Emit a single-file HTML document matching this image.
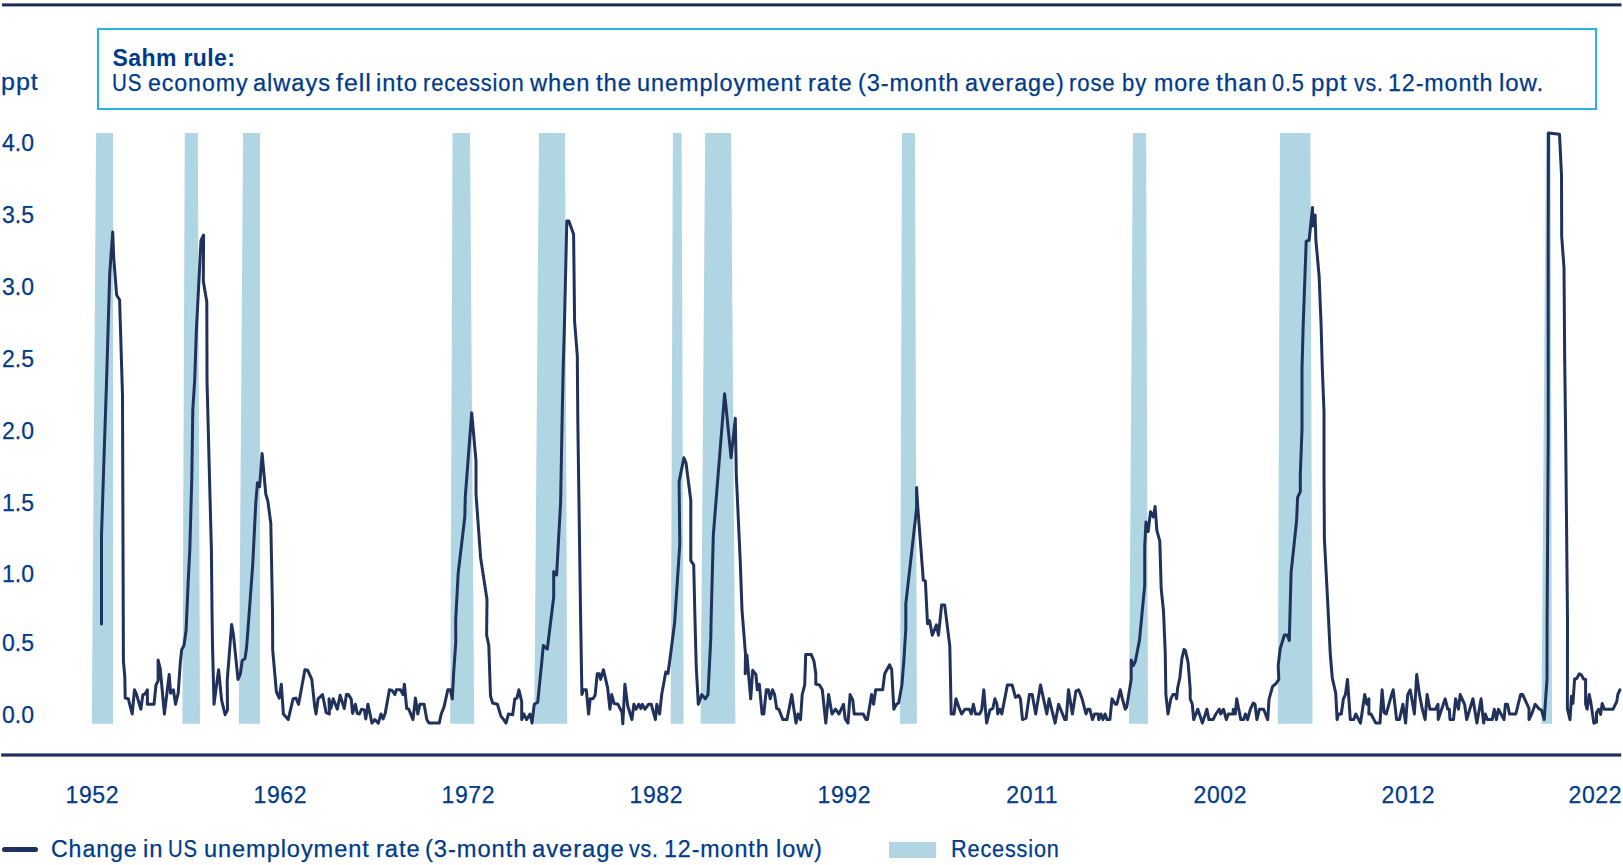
<!DOCTYPE html>
<html><head><meta charset="utf-8">
<style>
html,body{margin:0;padding:0;background:#fff;}
body{width:1623px;height:865px;position:relative;overflow:hidden;font-family:"Liberation Sans",sans-serif;color:#003a8a;}
.a{position:absolute;white-space:nowrap;line-height:1;}
#rule{position:absolute;left:2px;top:3px;width:1620px;height:3px;background:#1b2b55;}
#box{position:absolute;left:97px;top:28px;width:1496px;height:78px;border:2px solid #2ab3e1;}
.t{font-size:23px;-webkit-text-stroke:0.25px #003a8a;}
.yl{font-size:23px;left:2px;-webkit-text-stroke:0.25px #003a8a;}
.w{position:absolute;top:0;letter-spacing:0.9px;transform-origin:0 0;}
.xl{font-size:23px;width:100px;text-align:center;letter-spacing:0.6px;text-indent:0.6px;-webkit-text-stroke:0.25px #003a8a;}
#axis{position:absolute;left:1px;top:753px;width:1622px;height:3px;background:#1e2f5a;}
svg{position:absolute;left:0;top:0;}
</style></head><body>
<div id="box"></div>
<div class="a t" style="left:112.5px;top:46.6px;font-weight:bold;letter-spacing:0.4px;-webkit-text-stroke:0;">Sahm rule:</div>
<div class="a t" style="left:0;top:72px;"><span class="w" style="left:112.4px;transform:scaleX(0.8936)">US</span><span class="w" style="left:147.9px;transform:scaleX(1.0082)">economy</span><span class="w" style="left:252.9px;transform:scaleX(1.0298)">always</span><span class="w" style="left:336.1px;transform:scaleX(1.0871)">fell</span><span class="w" style="left:375.8px;transform:scaleX(1.027)">into</span><span class="w" style="left:423.2px;transform:scaleX(0.9519)">recession</span><span class="w" style="left:530.2px;transform:scaleX(1.0298)">when</span><span class="w" style="left:595.9px;transform:scaleX(1.0403)">the</span><span class="w" style="left:636.6px;transform:scaleX(1.0207)">unemployment</span><span class="w" style="left:808.3px;transform:scaleX(1.0294)">rate</span><span class="w" style="left:858.0px;transform:scaleX(1.024)">(3-month</span><span class="w" style="left:964.7px;transform:scaleX(1.0169)">average)</span><span class="w" style="left:1069.1px;transform:scaleX(0.9631)">rose</span><span class="w" style="left:1122.0px;transform:scaleX(0.96)">by</span><span class="w" style="left:1153.6px;transform:scaleX(1.0093)">more</span><span class="w" style="left:1215.5px;transform:scaleX(1.0661)">than</span><span class="w" style="left:1272.2px;transform:scaleX(0.9427)">0.5</span><span class="w" style="left:1310.9px;transform:scaleX(1.0489)">ppt</span><span class="w" style="left:1353.5px;transform:scaleX(0.9303)">vs.</span><span class="w" style="left:1388.4px;transform:scaleX(1.0098)">12-month</span><span class="w" style="left:1499.4px;transform:scaleX(1.0452)">low.</span></div>
<div class="a yl" style="left:1.2px;top:71.2px;letter-spacing:0.9px;transform-origin:0 0;transform:scaleX(1.09);">ppt</div>
<div class="a yl" style="top:132.3px;">4.0</div>
<div class="a yl" style="top:204.3px;">3.5</div>
<div class="a yl" style="top:276.3px;">3.0</div>
<div class="a yl" style="top:348.3px;">2.5</div>
<div class="a yl" style="top:420.3px;">2.0</div>
<div class="a yl" style="top:492.3px;">1.5</div>
<div class="a yl" style="top:563.3px;">1.0</div>
<div class="a yl" style="top:632.3px;">0.5</div>
<div class="a yl" style="top:704.3px;">0.0</div>
<svg width="1623" height="865" viewBox="0 0 1623 865">
<rect x="2" y="3.4" width="1619.5" height="3" fill="#1b2b55"/>
<rect x="1.2" y="753.4" width="1620" height="3.2" fill="#1e2f5a"/>
<g fill="#b0d6e4">
<polygon points="96.1,133 113.1,133 113.1,723.7 91.8,723.7"/>
<polygon points="184.8,133 197.8,133 200,723.7 182.4,723.7"/>
<polygon points="243.1,133 260,133 260,723.7 238.8,723.7"/>
<polygon points="452.6,133 470,133 474.2,723.7 450.2,723.7"/>
<polygon points="539,133 565,133 567.2,723.7 534.3,723.7"/>
<polygon points="672.9,133 681.6,133 683.6,723.7 670.7,723.7"/>
<polygon points="705.2,133 731.1,133 735.4,723.7 700.6,723.7"/>
<polygon points="902,133 915,133 916.9,723.7 900,723.7"/>
<polygon points="1132.9,133 1146.1,133 1148,723.7 1129,723.7"/>
<polygon points="1280,133 1310.4,133 1312.5,723.7 1277.8,723.7"/>
<polygon points="1546,133 1550.5,133 1552,723.7 1541.4,723.7"/>
</g>
<path id="line" fill="none" stroke="#20325c" stroke-width="3" stroke-linejoin="round" stroke-linecap="round" d="M101.5,624 L101.5,536 L103.7,467 L106.6,380 L109.7,274 L112.7,232 L113.7,257 L116.6,295 L119.6,300 L122.5,395 L123.4,661 L124.8,676.6 L125.2,698 L128.3,698.8 L132.2,714 L134.5,689.8 L136.6,694.6 L140.8,709.2 L142.9,694.6 L145,694 L147.4,689.8 L147.4,704.3 L154,704.3 L156,685 L158.1,680.8 L158.1,660 L160.2,668.3 L164.4,714 L169.2,674.5 L170.6,693.2 L173.4,689.8 L175.5,704.3 L178.2,693.2 L180.3,662.7 L181.7,649.6 L184,645.4 L186.1,630.2 L188.2,581.6 L189.8,550 L191.8,478 L192.8,409.5 L194.7,380 L196.4,330 L201,240.4 L203.6,235 L203.3,281 L206.8,302 L207,380 L209.5,478 L211.4,550 L212,610 L212.5,645 L214,704.3 L218.6,669.7 L221.6,700.2 L225.1,714.7 L227.5,709.9 L227.2,680.8 L231.6,624.6 L233.4,634.3 L238,679.4 L240.4,673.8 L242.2,660.6 L245,658.6 L246.6,647.5 L248.3,625 L252.7,565 L255.8,502.4 L257.5,482.7 L259.6,486.8 L262.1,453.5 L265.8,494 L267.9,501.4 L270.8,523.2 L272.5,610 L272.7,650.2 L276.4,691.9 L279.2,698.1 L281.3,684.2 L283.4,714 L288.2,719.6 L293.1,698.8 L295.9,698.1 L298.6,704.3 L304.9,669.7 L307.7,670.3 L311.8,679.4 L314.6,705.7 L316,714 L318.1,698.8 L322.5,694.6 L326.2,712.7 L329.4,714 L329,698.8 L330.8,708.5 L333.2,698.8 L337.3,709.2 L340.1,695.3 L344.3,708.5 L346.4,694.6 L348.4,694.6 L351.2,698.8 L352.6,713.4 L355.4,704.3 L357.2,713.4 L359.5,714 L361.6,709.2 L364.4,709.9 L365.8,718.9 L367.9,704.3 L372,723.1 L374.8,719.6 L378.3,723.1 L381,714 L383.1,718.9 L385.2,713.4 L389.4,689.8 L392.1,690.5 L394.9,694.6 L396.3,689.8 L400.5,689.8 L403,694.6 L404.4,684.2 L406.7,708.5 L408.8,709.2 L413,719.6 L415.4,698.1 L417.8,714 L419.9,704.3 L424.1,704.3 L426.8,719.6 L428.9,723.1 L439.2,723.1 L441.2,714 L444,707.1 L447.8,689.8 L450.3,689.8 L452.3,698.8 L453.7,672.4 L455.8,641.9 L455.7,620 L458.2,573 L464.8,517 L465.3,496.6 L471.7,412.7 L476,461 L476,494 L480.6,557.7 L487,599.6 L486.6,635 L488.8,645.4 L490.5,696 L492.6,703 L497.4,704.3 L500.9,716.1 L503.7,719.6 L506,723.1 L508.5,714 L512.7,714.7 L514.8,698.8 L516.9,698.1 L518.9,689.8 L521.7,701.6 L521.7,719.6 L523.8,714 L526.6,719.6 L530,714 L532.1,723.1 L534.2,704.3 L537.7,702.3 L541.5,665 L543.3,645.5 L547.3,649 L553.7,597 L553.7,571.6 L556.6,575 L560.6,502.3 L562.3,410 L563.2,367.8 L564.4,326.5 L566.8,221 L568.8,221 L573.6,234.3 L574.6,321.7 L577.3,355.7 L577.8,420 L580.5,610 L581.9,694.6 L583.3,689.8 L586.3,689.8 L588.6,714 L590.2,698.8 L593,698.8 L595.1,695.3 L597.2,673.8 L599.3,673.8 L600.6,679.4 L603.4,669.7 L607.6,687.7 L609.9,709.2 L611.7,694.6 L614.1,703.6 L618,704.3 L622.1,712.7 L622.8,723.8 L624.9,684.2 L627.7,705.7 L631.9,719.6 L633.9,704.3 L636,709.2 L638.8,704.3 L640.9,708.5 L642.3,704.3 L645,709.2 L648.5,704.3 L651.3,704.3 L655.4,719.6 L656.8,704.3 L659.6,714 L661.7,694.6 L665.8,672 L668,673.5 L670.5,655 L674.7,622 L679.8,544 L679.1,481.6 L683.9,457.7 L686,462.9 L690.8,500.4 L690.8,560.7 L693.7,564.9 L695,620 L696.2,665.5 L698.3,704.3 L701.8,694.6 L705.2,698.8 L708,694.6 L710.8,637.7 L711.1,620 L713.3,535.4 L718.1,475 L724.6,393.8 L725.9,405.8 L731.1,457.8 L735.3,418.3 L736.3,475 L740.2,560.4 L742,610 L745.5,654.4 L745.2,673.8 L746.9,655 L750.7,698.8 L752.7,670.3 L755.9,674.5 L757.3,689.8 L759.3,684.2 L762.1,714 L763.8,714 L766.3,689.8 L768.4,689.8 L770.2,698.8 L772.5,689.8 L774.6,694.6 L776.7,708.5 L778.8,709.2 L782.9,719.6 L786.9,719.6 L789,709.2 L791.8,694.6 L793.9,709.2 L796,723.1 L798,714 L800.5,719.6 L802.2,694.6 L804.7,684.9 L805.7,654.4 L811.2,654.4 L814,661.3 L815.8,673.8 L815.8,684.2 L819.5,684.9 L822.3,689.8 L825.8,723.1 L828.6,694.6 L832,714 L835.5,709.2 L839,714 L843.5,704.3 L845.2,718.9 L848,723.1 L850.1,694.6 L852.8,700.2 L854.2,714 L863.2,714 L866,719.6 L867.4,719.6 L871.6,694.6 L873.6,704.3 L875.7,689.8 L882.7,689.8 L884.7,673.8 L889.6,664.8 L891.7,669.7 L893.8,709.2 L896.5,704.3 L898.6,703 L901.9,684.9 L904,658.6 L905.8,629 L905.8,604 L916.6,508.3 L916.6,487.5 L917.7,506.2 L923.3,580.1 L925.4,581.1 L927.5,623.8 L929.6,620.7 L932.3,635.2 L936.4,624.8 L938.5,635.2 L941.6,605.1 L944.7,605.1 L949.8,646.1 L951.2,714 L954,714 L956,698.8 L958.8,707.1 L961.6,714 L965.1,709.2 L969.2,709.2 L971.3,714 L973.4,704.3 L975.5,714 L979.6,714 L981.7,709.9 L983.8,689.8 L986.6,723.1 L990,709.9 L992.8,708.5 L994.9,698.8 L997,704.3 L997.7,714 L999.7,709.2 L1001.8,714 L1007.4,684.9 L1012.1,684.9 L1015.5,697.4 L1018.6,695.3 L1020.4,698.8 L1022.5,719.6 L1026,718.2 L1029.4,694.6 L1032.2,694.6 L1035.7,714 L1040.5,684.9 L1046.8,714 L1049.1,698.8 L1055.1,723.1 L1058.6,704.3 L1064.8,719.6 L1066.2,719.6 L1068.5,689.8 L1072.4,714 L1075.9,691.2 L1078.7,689.8 L1082.1,698.8 L1086,714 L1087.7,709.2 L1089.8,709.2 L1092.5,719.6 L1094.6,714 L1098.1,714 L1098.8,719.6 L1100.9,714 L1103,719.6 L1105,714 L1107.1,719.6 L1109.9,719.6 L1112,698.8 L1115.4,704.3 L1116.8,704.3 L1120.3,689.8 L1122.4,698.8 L1125.2,709.2 L1126.7,707.1 L1131.2,679.4 L1131.2,660 L1133.3,665.5 L1135.4,661.3 L1139.5,640 L1144.7,585.4 L1144.7,547.2 L1146,522.1 L1148.2,531.6 L1150.5,511.7 L1153.4,516.9 L1155.1,506.5 L1156.9,530.7 L1159.8,541.2 L1161.2,588.8 L1163.5,611 L1165.2,651.6 L1165.9,694.6 L1168,714 L1170.8,698.8 L1172.9,694.6 L1175.6,694.6 L1176.6,698.8 L1177.7,687.7 L1179.8,678 L1181.9,658.6 L1184,649.5 L1185.3,650.2 L1188.1,662.7 L1190.2,689.1 L1190.2,698.8 L1192.3,704.3 L1193.7,719.6 L1197.8,709.2 L1202.4,723.1 L1206.9,709.2 L1208.9,719.6 L1213.1,719.6 L1215.9,714 L1219.3,709.2 L1220.7,714 L1223.5,709.2 L1226.3,719.6 L1228.4,714 L1233.2,714 L1233.2,709.2 L1235.3,714 L1236.7,698.8 L1240.8,719.6 L1243.6,719.6 L1245.5,714 L1247.6,719.6 L1250.4,709.2 L1253.2,703 L1255,704.3 L1256.9,719.6 L1259.4,709.2 L1263.6,709.2 L1267.7,719.6 L1269.1,698.8 L1272.6,686.3 L1276.1,683.5 L1278.8,679.4 L1278.2,665.5 L1280.2,648.8 L1284.4,635 L1287.2,635 L1289.3,640.5 L1291.1,572.3 L1296.6,520.5 L1297.6,497.4 L1300.3,491.8 L1300.3,475 L1302,429 L1302,368.4 L1303.2,325 L1306.2,241.1 L1309.1,240.3 L1312.5,207.5 L1312.8,226 L1315.1,215 L1315.9,240.3 L1319.1,275.9 L1321.1,325 L1322.3,368.4 L1324,411.7 L1324,475 L1324.4,539 L1328.1,610 L1330.2,653 L1332.3,678 L1335.7,693.2 L1337.1,719.6 L1338.5,714 L1341.3,714 L1343.4,698.8 L1345.4,694.6 L1347.5,679.4 L1350.3,719.6 L1353.8,719.6 L1355.8,714 L1360.5,723.1 L1364.7,694.6 L1366.8,704.3 L1368.9,698.8 L1368.9,714 L1371,714 L1375.8,723.1 L1380,723.1 L1382.1,689.8 L1384.1,712.7 L1386.2,714 L1390.4,698.8 L1393.2,689.8 L1396.6,719.6 L1399.4,719.6 L1402.9,704.3 L1405.6,723.1 L1407.7,694.6 L1410.2,689.8 L1414.4,714 L1416.7,674.5 L1419.5,694.6 L1422.3,709.2 L1425.1,719.6 L1427.1,694.6 L1429.9,709.2 L1435.5,709.2 L1438,704.3 L1438.2,719.6 L1445.2,698.8 L1447.7,709.2 L1449.3,709.2 L1450,719.6 L1453.5,719.6 L1455.6,698.8 L1458.4,709.2 L1460.2,694.6 L1464.6,704.3 L1466.7,719.6 L1472.9,698.8 L1476.9,723.1 L1481.1,698.8 L1483.6,723.1 L1485.3,714 L1487.3,719.6 L1492.2,719.6 L1494.3,709.2 L1496.4,719.6 L1498.4,709.2 L1504,719.6 L1505.4,704.3 L1507.5,704.3 L1509.5,714 L1515.8,714 L1520.6,694.6 L1522.7,694.6 L1529,708.5 L1529,719.6 L1531.7,714 L1535.2,704.3 L1539.4,709.2 L1541.4,709.9 L1544.2,719.6 L1547,679.4 L1547.1,620 L1548.2,440 L1548.2,250 L1548.5,133.1 L1559.5,134.2 L1561.5,175 L1561.7,236.5 L1564,267.6 L1564.7,360 L1565.7,440 L1567.5,620 L1567.4,708.6 L1570,719.6 L1571.5,696.2 L1572.9,703.4 L1574.6,679 L1576.7,678.5 L1579.3,673.8 L1581.4,674.8 L1583.5,679 L1585.6,679.5 L1585.6,704 L1587.1,709.2 L1589.2,694.6 L1590.8,702.4 L1593.9,723.2 L1596.5,722.2 L1596.5,712.8 L1598.6,709.2 L1600.6,714.4 L1602.2,703.4 L1604.3,709.2 L1613.1,709.2 L1616.8,701.4 L1617.8,694.6 L1619.9,689.9"/>
</svg>
<div class="a xl" style="left:42px;top:783.8px;">1952</div>
<div class="a xl" style="left:230px;top:783.8px;">1962</div>
<div class="a xl" style="left:418px;top:783.8px;">1972</div>
<div class="a xl" style="left:606px;top:783.8px;">1982</div>
<div class="a xl" style="left:794px;top:783.8px;">1992</div>
<div class="a xl" style="left:982px;top:783.8px;">2011</div>
<div class="a xl" style="left:1170px;top:783.8px;">2002</div>
<div class="a xl" style="left:1358px;top:783.8px;">2012</div>
<div class="a xl" style="left:1545px;top:783.8px;">2022</div>
<div style="position:absolute;left:2px;top:846.5px;width:36px;height:5px;border-radius:2.5px;background:#1e3160;"></div>
<div class="a t" style="left:0;top:838.4px;"><span class="w" style="left:50.8px;transform:scaleX(1.006)">Change</span><span class="w" style="left:143.0px;transform:scaleX(1.0357)">in</span><span class="w" style="left:168.2px;transform:scaleX(0.8815)">US</span><span class="w" style="left:203.9px;transform:scaleX(1.025)">unemployment</span><span class="w" style="left:375.5px;transform:scaleX(1.0294)">rate</span><span class="w" style="left:424.8px;transform:scaleX(1.0314)">(3-month</span><span class="w" style="left:531.9px;transform:scaleX(1.0357)">average</span><span class="w" style="left:629.2px;transform:scaleX(0.9303)">vs.</span><span class="w" style="left:663.9px;transform:scaleX(1.0108)">12-month</span><span class="w" style="left:775.5px;transform:scaleX(1.0233)">low)</span></div>
<div style="position:absolute;left:889px;top:842px;width:47px;height:16px;background:#b0d6e4;"></div>
<div class="a t" style="left:0;top:838.4px;"><span class="w" style="left:950.6px;transform:scaleX(0.9416)">Recession</span></div>
</body></html>
